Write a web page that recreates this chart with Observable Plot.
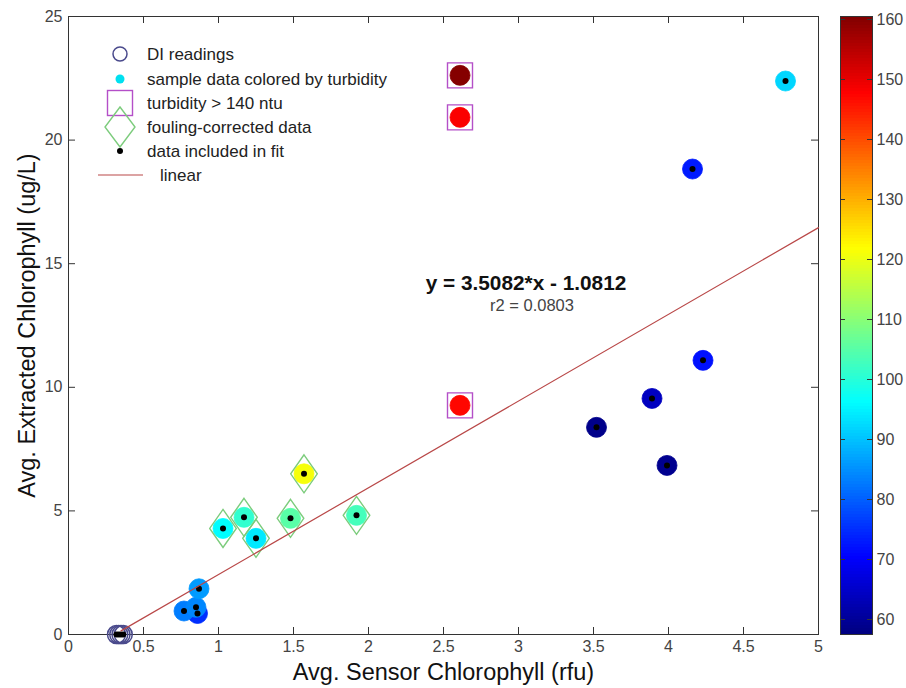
<!DOCTYPE html>
<html><head><meta charset="utf-8">
<script src="https://cdn.jsdelivr.net/npm/d3@7"></script>
<script src="https://cdn.jsdelivr.net/npm/@observablehq/plot@0.6"></script>
<style>
body{margin:0;background:#fff;}
#wrap{position:relative;width:906px;height:688px;font-family:Arial,"Liberation Sans",sans-serif;background:#fff;}
#main{position:absolute;left:0;top:0;}
#cbar{position:absolute;left:830px;top:0;}
</style></head><body><div id="wrap"><div id="main"></div><div id="cbar"></div></div>
<script>
// ---- data ----
const diX = [0.32, 0.335, 0.35, 0.365];
const diY = [0, 0, 0, 0];
const sampleX    = [0.86, 0.77, 0.85, 0.87, 1.03, 1.17, 1.25, 1.48, 1.57, 1.92, 2.61, 2.61, 2.61, 3.52, 3.89, 3.99, 4.23, 4.16, 4.78];
const sampleY    = [0.85, 0.95, 1.10, 1.85, 4.29, 4.74, 3.89, 4.70, 6.50, 4.82, 22.62, 20.92, 9.27, 8.38, 9.55, 6.84, 11.09, 18.83, 22.39];
const turbidity  = [75, 83, 84, 86, 96, 101, 94, 105, 121, 103, 160, 148, 147, 58.5, 64, 59, 72, 73, 92];
const fouling    = [0, 0, 0, 0, 1, 1, 1, 1, 1, 1, 0, 0, 0, 0, 0, 0, 0, 0, 0];
const inFit      = [1, 1, 1, 1, 1, 1, 1, 1, 1, 1, 0, 0, 0, 1, 1, 1, 1, 1, 1];
const turbThreshold = 140;
const fitSlope = 3.5082, fitIntercept = -1.0812, fitR2 = 0.0803;
const fitXRange = [0.35, 5];
const xTicks = [0, 0.5, 1, 1.5, 2, 2.5, 3, 3.5, 4, 4.5, 5];
const yTicks = [0, 5, 10, 15, 20, 25];
const cbTicks = [60, 70, 80, 90, 100, 110, 120, 130, 140, 150, 160];
const cbDomain = [57.5, 160.5];
const xLabel = "Avg. Sensor Chlorophyll (rfu)";
const yLabel = "Avg. Extracted Chlorophyll (ug/L)";
const legendLabels = ["DI readings", "sample data colored by turbidity", "turbidity > 140 ntu", "fouling-corrected data", "data included in fit", "linear"];

// ---- derived tables ----
const samples = sampleX.map((x, i) => ({x, y: sampleY[i], t: turbidity[i], f: fouling[i], fit: inFit[i]}));
const di = diX.map((x, i) => ({x, y: diY[i]}));
const fitPts = fitXRange.map(x => ({x, y: fitSlope * x + fitIntercept}));
const fitDots = [...di, ...samples.filter(d => d.fit)];

const jet = d3.scaleLinear()
  .domain([0, 0.125, 0.375, 0.625, 0.875, 1])
  .range(["#000080", "#0000ff", "#00ffff", "#ffff00", "#ff0000", "#800000"])
  .interpolate(d3.interpolateRgb).clamp(true);
const colorOpts = {type: "linear", domain: cbDomain, interpolate: t => jet(t)};

const tallDiamond = {draw(ctx, size) { const r = Math.sqrt(size / Math.PI); const w = r * 0.7;
  ctx.moveTo(0, -r); ctx.lineTo(w, 0); ctx.lineTo(0, r); ctx.lineTo(-w, 0); ctx.closePath(); }};
const box = {draw(ctx, size) { const r = Math.sqrt(size / Math.PI);
  ctx.moveTo(-r, -r); ctx.lineTo(r, -r); ctx.lineTo(r, r); ctx.lineTo(-r, r); ctx.closePath(); }};

const W = 830, H = 688, mL = 68, mR = 12, mT = 16, mB = 54;
const innerW = W - mL - mR, innerH = H - mT - mB;
const font = "Arial, 'Liberation Sans', sans-serif";

const plot = Plot.plot({
  width: W, height: H, marginLeft: mL, marginRight: mR, marginTop: mT, marginBottom: mB,
  style: {fontFamily: font, fontSize: "16px", color: "#333", background: "white"},
  x: {domain: [0, 5]},
  y: {domain: [0, 25]},
  color: colorOpts,
  marks: [
    Plot.frame({stroke: "#333"}),
    Plot.tickX(xTicks, {x: d => d, stroke: "#333", insetTop: innerH - 7}),
    Plot.tickX(xTicks, {x: d => d, stroke: "#333", insetBottom: innerH - 7}),
    Plot.tickY(yTicks, {y: d => d, stroke: "#333", insetRight: innerW - 7}),
    Plot.tickY(yTicks, {y: d => d, stroke: "#333", insetLeft: innerW - 7}),
    Plot.axisX(xTicks, {tickSize: 0, tickPadding: 6, label: null, fill: "#444", tickFormat: d => String(d)}),
    Plot.axisY(yTicks, {tickSize: 0, tickPadding: 6, label: null, fill: "#444"}),
    Plot.text([xLabel], {text: d => d, frameAnchor: "bottom", dy: 38, lineAnchor: "middle", textAnchor: "middle", fontSize: 23.5, fill: "#111"}),
    Plot.text([yLabel], {text: d => d, frameAnchor: "left", dx: -41, rotate: -90, lineAnchor: "middle", textAnchor: "middle", fontSize: 23.5, fill: "#111"}),
    // DI readings
    Plot.dot(di, {x: "x", y: "y", r: 9, stroke: "#4a4a8c", strokeWidth: 1.5, fill: "none"}),
    // samples coloured by turbidity
    Plot.dot(samples, {x: "x", y: "y", r: 10, fill: "t", stroke: "t", strokeWidth: 0.8}),
    // turbidity > 140
    Plot.dot(samples.filter(d => d.t > turbThreshold), {x: "x", y: "y", symbol: box, r: 12.5, stroke: "#b44fc8", strokeWidth: 1.4, fill: "none"}),
    // fouling corrected
    Plot.dot(samples.filter(d => d.f), {x: "x", y: "y", symbol: tallDiamond, r: 19, stroke: "#7ccc7c", strokeWidth: 1.4, fill: "none"}),
    // data included in fit
    Plot.dot(fitDots, {x: "x", y: "y", r: 3, fill: "black"}),
    // fit line
    Plot.line(fitPts, {x: "x", y: "y", stroke: "#b94848", strokeWidth: 1.2}),
    Plot.text([`y = ${fitSlope}*x - ${Math.abs(fitIntercept)}`], {text: d => d, x: 3.05, y: 14.2, fontSize: 20.8, fontWeight: "bold", fill: "#111"}),
    Plot.text([`r2 = ${fitR2}`], {text: d => d, x: 3.09, y: 13.28, fontSize: 16.5, fill: "#444"})
  ]
});
document.getElementById("main").append(plot);

// legend (inside axes, top-left)
const svg = d3.select(plot);
const lg = svg.append("g").attr("font-family", font).attr("font-size", 17).attr("fill", "#222").attr("text-anchor", "start");
const rowY = [54, 79, 103, 127, 151, 175];
const mx = 120, tx = 147;
lg.append("circle").attr("cx", mx).attr("cy", rowY[0]).attr("r", 7).attr("fill", "none").attr("stroke", "#4a4a8c").attr("stroke-width", 1.5);
lg.append("circle").attr("cx", mx).attr("cy", rowY[1]).attr("r", 4.5).attr("fill", "#00e0f0");
lg.append("rect").attr("x", mx - 12.5).attr("y", rowY[2] - 12.5).attr("width", 25).attr("height", 25).attr("fill", "none").attr("stroke", "#b44fc8").attr("stroke-width", 1.4);
lg.append("path").attr("d", `M${mx},${rowY[3]-20}L${mx+15},${rowY[3]}L${mx},${rowY[3]+20}L${mx-15},${rowY[3]}Z`).attr("fill", "none").attr("stroke", "#7ccc7c").attr("stroke-width", 1.4);
lg.append("circle").attr("cx", mx).attr("cy", rowY[4]).attr("r", 3).attr("fill", "black");
lg.append("line").attr("x1", 98).attr("x2", 143).attr("y1", rowY[5]).attr("y2", rowY[5]).attr("stroke", "#b94848").attr("stroke-width", 1.2);
legendLabels.forEach((t, i) => {
  lg.append("text").attr("x", i === 5 ? 160 : tx).attr("y", rowY[i]).attr("dy", "0.35em").attr("text-anchor", "start").text(t);
});

// colorbar
const cbStep = 0.5;
const cbVals = d3.range(cbDomain[0], cbDomain[1], cbStep);
const cbInnerW = 76 - 10 - 34;
const cbar = Plot.plot({
  width: 76, height: H, marginLeft: 10, marginRight: 34, marginTop: mT, marginBottom: mB,
  style: {fontFamily: font, fontSize: "16px", color: "#333", background: "white"},
  y: {domain: cbDomain},
  color: colorOpts,
  marks: [
    Plot.rect(cbVals, {y1: d => d, y2: d => Math.min(d + cbStep * 1.2, cbDomain[1]), fill: d => d + cbStep / 2, shapeRendering: "crispEdges"}),
    Plot.frame({stroke: "#333"}),
    Plot.tickY(cbTicks, {y: d => d, stroke: "#333", insetRight: cbInnerW - 5}),
    Plot.tickY(cbTicks, {y: d => d, stroke: "#333", insetLeft: cbInnerW - 5}),
    Plot.axisY(cbTicks, {anchor: "right", tickSize: 0, tickPadding: 4, label: null, fill: "#444"})
  ]
});
document.getElementById("cbar").append(cbar);
</script></body></html>
